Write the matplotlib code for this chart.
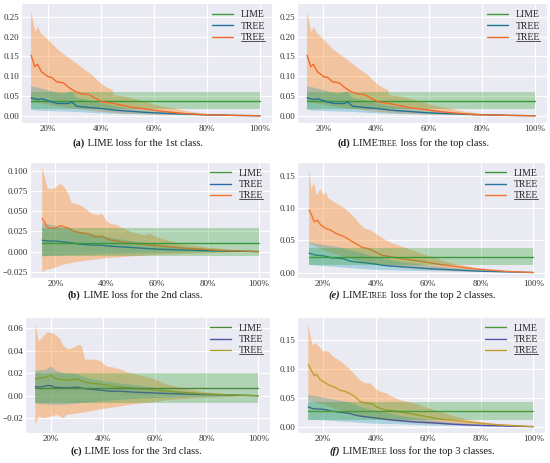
import matplotlib
matplotlib.use('Agg')
import matplotlib.pyplot as plt
import seaborn as sns
from matplotlib.lines import Line2D
from matplotlib.ticker import MultipleLocator

sns.set_style('darkgrid')
plt.rcParams['font.family'] = ['Liberation Serif', 'DejaVu Serif']

# ---- data: (x in %, loss) ----
# panel (a) and (d) show the same curves
a_tree_mean = [(13.8, 0.045), (16.4, 0.041), (17.7, 0.043), (21.5, 0.035), (24, 0.031), (27.9, 0.031),
               (29.1, 0.035), (31, 0.024), (35.5, 0.021), (40.6, 0.018), (45.7, 0.014), (52, 0.011),
               (58.3, 0.008), (64.7, 0.006), (77.4, 0.003), (90, 0.001), (100, 0.0)]
a_tree_hi = [(13.8, 0.075), (17, 0.070), (20, 0.065), (25, 0.055), (27.5, 0.058), (29, 0.062), (31, 0.045),
             (35, 0.040), (40, 0.032), (45, 0.025), (50, 0.020), (60, 0.013), (70, 0.008), (80, 0.004),
             (90, 0.002), (100, 0.0)]
a_tree_lo = [(13.8, 0.015), (16, 0.013), (20, 0.012), (30, 0.010), (40, 0.006), (50, 0.004), (60, 0.003),
             (80, 0.001), (100, 0.0)]
a_utree_mean = [(13.8, 0.153), (15.2, 0.124), (16.2, 0.130), (17.7, 0.111), (20.3, 0.098), (21.5, 0.097),
                (23.4, 0.086), (26, 0.083), (27.9, 0.072), (30.4, 0.061), (33, 0.055), (35.5, 0.054),
                (38, 0.044), (40.6, 0.035), (43.1, 0.033), (45.7, 0.030), (52, 0.021), (58.3, 0.016),
                (64.7, 0.010), (71, 0.006), (77.4, 0.003), (83.7, 0.002), (90, 0.001), (100, 0.0)]
a_utree_hi = [(13.8, 0.263), (14.5, 0.242), (15.4, 0.212), (16.4, 0.225), (17.5, 0.208), (19, 0.200),
              (21.5, 0.183), (24, 0.166), (26.6, 0.153), (29.1, 0.141), (31.7, 0.128), (34.2, 0.115),
              (36.8, 0.103), (39.3, 0.086), (41.8, 0.073), (44.4, 0.065), (45, 0.052), (49.5, 0.048),
              (54.5, 0.040), (60.9, 0.027), (67.2, 0.019), (73.6, 0.010), (80, 0.005), (90, 0.002), (100, 0.0)]
a_utree_lo = [(13.8, 0.035), (20, 0.028), (30, 0.018), (40, 0.010), (50, 0.005), (60, 0.003), (80, 0.001),
              (100, 0.0)]
a_lime = (0.037, 0.016, 0.059)  # mean, low, high

b_tree_mean = [(14.8, 0.014), (17, 0.013), (20, 0.013), (23, 0.012), (26, 0.011), (30, 0.009), (35, 0.008),
               (38, 0.008), (40, 0.007), (45, 0.006), (50, 0.005), (60, 0.003), (70, 0.002), (80, 0.001),
               (90, 0.0005), (100, 0.0)]
b_tree_hi = [(14.8, 0.035), (20, 0.032), (25, 0.028), (30, 0.024), (40, 0.018), (50, 0.013), (60, 0.009),
             (70, 0.006), (80, 0.003), (90, 0.001), (100, 0.0)]
b_tree_lo = [(14.8, -0.006), (20, -0.005), (30, -0.004), (40, -0.003), (60, -0.002), (80, -0.001), (100, 0.0)]
b_utree_mean = [(14.8, 0.041), (16.7, 0.031), (18, 0.029), (20, 0.029), (22, 0.032), (23.9, 0.030),
                (25.2, 0.029), (27.2, 0.025), (30.4, 0.023), (33, 0.022), (35.6, 0.018), (38.2, 0.019),
                (40.8, 0.015), (46, 0.012), (51.2, 0.010), (57.7, 0.008), (64.2, 0.006), (70.7, 0.004),
                (77.2, 0.003), (83.7, 0.0016), (90.2, 0.001), (100, 0.0)]
b_utree_hi = [(14.8, 0.104), (16, 0.090), (17, 0.078), (19, 0.077), (20.5, 0.080), (22, 0.084), (23.5, 0.080),
              (25, 0.072), (26.5, 0.060), (29, 0.058), (31, 0.055), (33, 0.050), (35, 0.046), (37, 0.045),
              (38.5, 0.047), (40, 0.038), (42, 0.034), (44, 0.033), (46, 0.030), (48, 0.027), (50, 0.024),
              (55, 0.020), (57, 0.022), (60, 0.018), (65, 0.013), (70, 0.009), (80, 0.005), (90, 0.002),
              (100, 0.0)]
b_utree_lo = [(14.8, -0.025), (17, -0.022), (20, -0.020), (22, -0.017), (25, -0.015), (30, -0.012),
              (35, -0.010), (40, -0.008), (50, -0.006), (60, -0.004), (70, -0.003), (80, -0.002),
              (90, -0.001), (100, 0.0)]
b_lime = (0.011, -0.006, 0.029)

c_tree_mean = [(14, 0.008), (16, 0.0076), (18.5, 0.009), (20, 0.009), (21, 0.0076), (26, 0.007), (30, 0.0076),
               (33.9, 0.006), (39, 0.005), (42.9, 0.004), (46.7, 0.004), (51.8, 0.0032), (64.7, 0.002),
               (77.5, 0.0012), (90.3, 0.0006), (100, 0.0)]
c_tree_hi = [(14, 0.022), (18, 0.023), (20, 0.026), (22, 0.022), (25, 0.020), (30, 0.019), (35, 0.015),
             (40, 0.013), (50, 0.010), (60, 0.007), (70, 0.004), (80, 0.002), (90, 0.001), (100, 0.0)]
c_tree_lo = [(14, -0.007), (20, -0.008), (25, -0.008), (30, -0.007), (40, -0.005), (50, -0.003),
             (60, -0.002), (80, -0.001), (100, 0.0)]
c_utree_mean = [(14, 0.015), (17, 0.016), (20, 0.018), (22, 0.015), (25, 0.014), (28, 0.014), (30, 0.015),
                (33, 0.012), (36, 0.011), (40, 0.010), (45, 0.008), (50, 0.007), (55, 0.006), (60, 0.005),
                (70, 0.003), (80, 0.0015), (90, 0.0007), (100, 0.0)]
c_utree_hi = [(14, 0.064), (15.3, 0.048), (16.5, 0.051), (18.5, 0.056), (20.4, 0.0556), (22.3, 0.053),
              (23.6, 0.050), (24.9, 0.044), (26.8, 0.041), (28.7, 0.0425), (30.7, 0.045), (31.9, 0.044),
              (33.2, 0.032), (36.4, 0.032), (39, 0.031), (40.2, 0.0285), (41.5, 0.026), (44.1, 0.025),
              (46.7, 0.0235), (49.3, 0.021), (54.4, 0.018), (59.5, 0.015), (64.7, 0.010), (72.4, 0.006),
              (80, 0.003), (90.3, 0.001), (100, 0.0)]
c_utree_lo = [(14, -0.026), (15.3, -0.0186), (17.2, -0.020), (19.7, -0.0186), (22.3, -0.017), (24.9, -0.020),
              (26.1, -0.017), (30, -0.0157), (33.9, -0.0143), (39, -0.012), (45.4, -0.010), (51.8, -0.0076),
              (58.3, -0.006), (64.7, -0.004), (77.5, -0.002), (90.3, -0.001), (100, 0.0)]
c_lime = (0.0068, -0.0065, 0.020)

e_tree_mean = [(14.6, 0.030), (17, 0.027), (20, 0.026), (23, 0.023), (26, 0.022), (28, 0.021), (30, 0.018),
               (33, 0.016), (36, 0.015), (40, 0.013), (43, 0.011), (46, 0.010), (50, 0.009), (55, 0.0075),
               (60, 0.006), (70, 0.004), (80, 0.002), (90, 0.001), (100, 0.0)]
e_tree_hi = [(14.6, 0.047), (20, 0.043), (25, 0.040), (30, 0.035), (35, 0.030), (40, 0.024), (45, 0.020),
             (50, 0.016), (60, 0.011), (70, 0.007), (80, 0.004), (90, 0.0015), (100, 0.0)]
e_tree_lo = [(14.6, 0.012), (20, 0.010), (30, 0.007), (40, 0.004), (50, 0.003), (60, 0.002), (80, 0.001),
             (100, 0.0)]
e_utree_mean = [(14.6, 0.097), (15.8, 0.087), (16.5, 0.079), (17.8, 0.081), (19, 0.074), (20.9, 0.0685),
                (22.8, 0.066), (24.7, 0.061), (27.2, 0.057), (29.1, 0.053), (31, 0.048), (32.9, 0.044),
                (34.8, 0.039), (37.3, 0.037), (39.8, 0.032), (42.3, 0.027), (46.1, 0.024), (52.4, 0.020),
                (58.7, 0.0166), (65, 0.012), (71.3, 0.009), (77.6, 0.0057), (83.9, 0.0036), (90.2, 0.0016),
                (100, 0.0)]
e_utree_hi = [(14.6, 0.160), (15.5, 0.130), (16.5, 0.140), (17.5, 0.120), (19, 0.130), (20, 0.120),
              (21, 0.125), (22, 0.115), (24, 0.110), (26, 0.105), (28, 0.100), (30, 0.093), (32, 0.085),
              (34, 0.075), (36, 0.068), (38, 0.066), (40, 0.060), (42, 0.055), (44, 0.050), (46, 0.046),
              (50, 0.040), (55, 0.033), (60, 0.026), (65, 0.019), (70, 0.013), (80, 0.006), (90, 0.002),
              (100, 0.0)]
e_utree_lo = [(14.6, 0.045), (20, 0.035), (25, 0.028), (30, 0.022), (35, 0.016), (40, 0.012), (50, 0.007),
              (60, 0.004), (70, 0.002), (80, 0.001), (100, 0.0)]
e_lime = (0.0244, 0.0114, 0.038)

f_tree_mean = [(14.3, 0.034), (16, 0.031), (20, 0.030), (23, 0.027), (26, 0.025), (30, 0.023), (33, 0.019),
               (36, 0.017), (40, 0.015), (45, 0.012), (50, 0.010), (55, 0.008), (60, 0.007), (70, 0.004),
               (80, 0.002), (90, 0.001), (100, 0.0)]
f_tree_hi = [(14.3, 0.055), (20, 0.050), (25, 0.046), (30, 0.042), (35, 0.033), (40, 0.027), (45, 0.023),
             (50, 0.018), (60, 0.012), (70, 0.007), (80, 0.004), (90, 0.0015), (100, 0.0)]
f_tree_lo = [(14.3, 0.012), (20, 0.011), (30, 0.008), (40, 0.005), (50, 0.004), (60, 0.002), (80, 0.001),
             (100, 0.0)]
f_utree_mean = [(14.3, 0.1075), (15.6, 0.096), (16.6, 0.088), (17.5, 0.0905), (18.7, 0.082), (20.6, 0.076),
                (22.5, 0.071), (24.4, 0.068), (26.3, 0.063), (28.3, 0.061), (30.2, 0.057), (32.1, 0.052),
                (34, 0.044), (35.9, 0.041), (38.4, 0.040), (40.3, 0.034), (43.5, 0.029), (47.3, 0.027),
                (52.4, 0.023), (58.7, 0.018), (65.1, 0.0125), (71.4, 0.010), (77.8, 0.0068), (84.1, 0.004),
                (90.5, 0.0023), (100, 0.0)]
f_utree_hi = [(14.3, 0.178), (15, 0.160), (16, 0.140), (17, 0.145), (18, 0.140), (19, 0.135), (20, 0.130),
              (22, 0.130), (24, 0.120), (26, 0.115), (28, 0.108), (30, 0.100), (32, 0.090), (34, 0.080),
              (36, 0.075), (38, 0.075), (40, 0.065), (42, 0.060), (44, 0.058), (46, 0.052), (50, 0.045),
              (55, 0.040), (60, 0.032), (65, 0.025), (70, 0.018), (75, 0.012), (80, 0.008), (90, 0.003),
              (100, 0.0)]
f_utree_lo = [(14.3, 0.045), (20, 0.038), (25, 0.030), (30, 0.025), (35, 0.018), (40, 0.013), (50, 0.008),
              (60, 0.005), (70, 0.003), (80, 0.0015), (100, 0.0)]
f_lime = (0.027, 0.0113, 0.0425)

x_ticks = [20, 40, 60, 80, 100]
legend_labels = ['LIME', 'TREE', 'TREE']

fig = plt.figure(figsize=(5.5, 4.63), dpi=100)
W, H = 550, 463


def add_ax(l, r, t, b):
    return fig.add_axes([l / W, 1 - b / H, (r - l) / W, (b - t) / H])


def unzip(pts):
    return [p[0] for p in pts], [p[1] for p in pts]


def draw_panel(ax, tree, tree_hi, tree_lo, utree, utree_hi, utree_lo, lime,
               ylim, ystep, colors, lime_top):
    c_lime, c_tree, c_utree = colors
    x0 = tree[0][0]
    zf = 5 if lime_top else 1
    # bands
    for hi, lo, col, a in [(utree_hi, utree_lo, '#ff7f0e', 0.36), (tree_hi, tree_lo, '#1f9bb4', 0.3)]:
        hx, hy = unzip(hi)
        lx, ly = unzip(lo)
        ax.fill(hx + lx[::-1], hy + ly[::-1], color=col, alpha=a, lw=0, zorder=1)
    ax.fill_between([x0, 100], [lime[1]] * 2, [lime[2]] * 2, color='#2ca02c', alpha=0.3, lw=0, zorder=zf)
    ax.plot([x0, 100], [lime[0]] * 2, color=c_lime, lw=1.0, label=legend_labels[0], zorder=zf + 1)
    x, y = unzip(tree)
    ax.plot(x, y, color=c_tree, lw=1.0, label=legend_labels[1], zorder=3)
    x, y = unzip(utree)
    ax.plot(x, y, color=c_utree, lw=1.0, label=legend_labels[2], zorder=3)

    ax.set_xlim(10, 104.5)
    ax.set_ylim(*ylim)
    ax.set_xticks(x_ticks)
    ax.set_xticklabels([f'{v}%' for v in x_ticks])
    ax.yaxis.set_major_locator(MultipleLocator(ystep))
    ax.tick_params(labelsize=6.5, pad=1.5, length=0, colors='.2')
    ax.grid(True, color='white', lw=0.8)
    leg = ax.legend(loc='upper right', fontsize=7, frameon=False, handlelength=2.2,
                    borderaxespad=0.3, labelspacing=0.25, handletextpad=0.8)
    return leg


axes = {
    'a': add_ax(21, 272, 3.3, 123.3),
    'd': add_ax(297, 547, 3.3, 123.3),
    'b': add_ax(30, 270, 161.7, 278.3),
    'e': add_ax(297, 545, 161.7, 278.3),
    'c': add_ax(25, 270, 316.7, 433),
    'f': add_ax(297, 545, 316.7, 433),
}

col_ad = ('#3a9a3a', '#1f7396', '#f26a2a')
col_b = ('#3a9a3a', '#2a6aa8', '#f07530')
col_c = ('#4a8a3a', '#4c54a8', '#a8a030')
col_e = ('#3a9a3a', '#2a78a0', '#f07530')
col_f = ('#4a9a3a', '#5050a8', '#c0a030')

legs = []
legs.append(draw_panel(axes['a'], a_tree_mean, a_tree_hi, a_tree_lo, a_utree_mean, a_utree_hi, a_utree_lo,
                       a_lime, (-0.019, 0.284), 0.05, col_ad, False))
legs.append(draw_panel(axes['d'], a_tree_mean, a_tree_hi, a_tree_lo, a_utree_mean, a_utree_hi, a_utree_lo,
                       a_lime, (-0.019, 0.284), 0.05, col_ad, False))
legs.append(draw_panel(axes['b'], b_tree_mean, b_tree_hi, b_tree_lo, b_utree_mean, b_utree_hi, b_utree_lo,
                       b_lime, (-0.033, 0.111), 0.025, col_b, True))
legs.append(draw_panel(axes['e'], e_tree_mean, e_tree_hi, e_tree_lo, e_utree_mean, e_utree_hi, e_utree_lo,
                       e_lime, (-0.009, 0.172), 0.05, col_e, True))
legs.append(draw_panel(axes['c'], c_tree_mean, c_tree_hi, c_tree_lo, c_utree_mean, c_utree_hi, c_utree_lo,
                       c_lime, (-0.033, 0.070), 0.02, col_c, True))
legs.append(draw_panel(axes['f'], f_tree_mean, f_tree_hi, f_tree_lo, f_utree_mean, f_utree_hi, f_utree_lo,
                       f_lime, (-0.011, 0.19), 0.05, col_f, True))

# captions built from pieces (bold label, small-caps "tree")
B = dict(weight='bold')
BI = dict(weight='bold', style='italic')
N = dict()
SC = dict(size=5.8)
captions = [
    (138, 146, [('(a)', B), (' LIME loss for the 1st class.', N)]),
    (135, 298, [('(b)', B), (' LIME loss for the 2nd class.', N)]),
    (136, 454, [('(c)', B), (' LIME loss for the 3rd class.', N)]),
    (413, 146, [('(d)', B), (' LIME', N), ('TREE', SC), (' loss for the top class.', N)]),
    (412, 298, [('(e)', BI), (' LIME', N), ('TREE', SC), (' loss for the top 2 classes.', N)]),
    (412, 454, [('(f)', BI), (' LIME', N), ('TREE', SC), (' loss for the top 3 classes.', N)]),
]

fig.canvas.draw()
rend = fig.canvas.get_renderer()
for cx, cy, pieces in captions:
    items = []
    total = 0
    for s, kw in pieces:
        t = fig.text(0, 1 - cy / H, s, fontsize=kw.get('size', 7.6), fontweight=kw.get('weight', 'normal'),
                     fontstyle=kw.get('style', 'normal'), ha='left', va='baseline', color='.1')
        w = t.get_window_extent(rend).width
        items.append((t, w))
        total += w
    x = cx - total / 2
    for t, w in items:
        t.set_x(x / W)
        x += w

# underline the third legend entry
fig.canvas.draw()
for leg in legs:
    t = leg.get_texts()[2]
    bb = t.get_window_extent(rend)
    y = bb.y0 + 1.2
    fig.add_artist(Line2D([bb.x0, bb.x1], [y, y], transform=None, color='.2', lw=0.6))

fig.savefig('out.png', dpi=100)
